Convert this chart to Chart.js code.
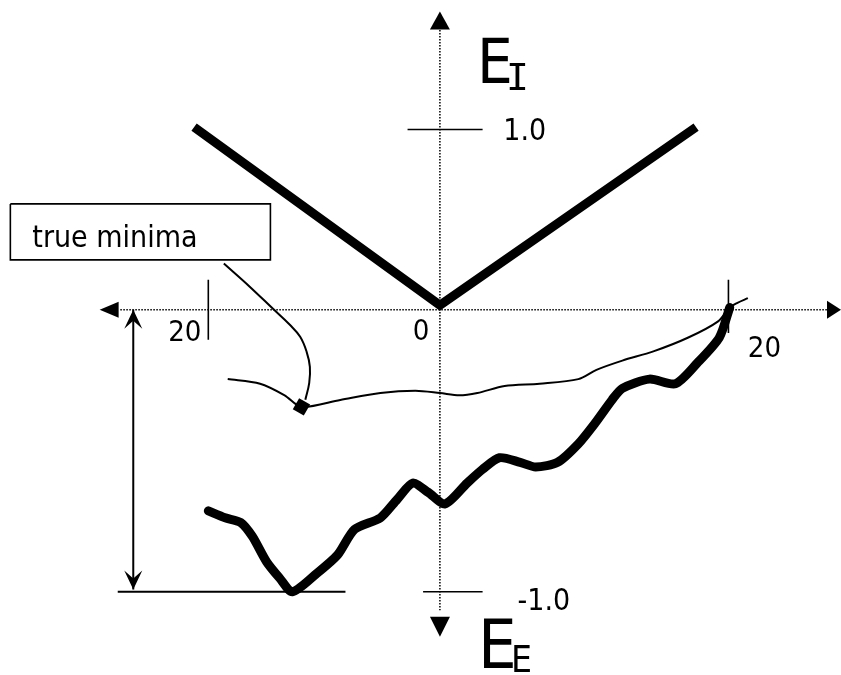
<!DOCTYPE html>
<html>
<head>
<meta charset="utf-8">
<script src="https://cdn.jsdelivr.net/npm/chart.js@4.4.0/dist/chart.umd.min.js"></script>
<style>
html, body { margin: 0; padding: 0; background: #fff; }
</style>
</head>
<body>
<canvas id="chart" width="841" height="675"></canvas>
<script>
// V shaped curve above the axis (E_I)
let vX = [-19, 0, 19.8];
let vY = [0.79, 0.02, 0.79];

// thin trajectory, ends at the true minima marker
let thinX = [-16.4, -13.9, -12.0, -10.7, -7.7, -4.6, -1.9, 0, 1.5, 2.9, 5.0, 7.7, 10.7, 12.1, 14.1, 16.5, 19.2, 21.5, 22.4, 23.0, 23.8];
let thinY = [-0.30, -0.32, -0.37, -0.42, -0.39, -0.36, -0.35, -0.36, -0.37, -0.36, -0.33, -0.32, -0.30, -0.26, -0.22, -0.18, -0.12, -0.05, 0.01, 0.03, 0.05];

// thick wavy curve (E_E)
let thickX = [-17.9, -16.6, -15.4, -14.5, -13.4, -12.4, -11.4, -9.5, -7.9, -6.6, -4.6, -3.3, -2.1, -0.9, 0.4, 2.1, 3.3, 4.6, 6.2, 7.4, 9.1, 10.7, 12.0, 13.3, 14.1, 16.2, 18.2, 19.9, 21.6, 22.4];
let thickY = [-0.87, -0.90, -0.92, -0.98, -1.09, -1.16, -1.22, -1.14, -1.06, -0.95, -0.90, -0.82, -0.75, -0.79, -0.84, -0.75, -0.69, -0.64, -0.66, -0.68, -0.66, -0.58, -0.49, -0.39, -0.34, -0.30, -0.32, -0.23, -0.12, 0.01];

// true minima marker
let minX = [-10.7];
let minY = [-0.42];

// leader line from the label box to the marker
let leadX = [-16.7, -14.7, -12.9, -11.6, -10.8, -10.3, -10.05, -10.1, -10.4];
let leadY = [0.20, 0.10, 0.004, -0.065, -0.117, -0.182, -0.247, -0.316, -0.389];

// axis ticks
let yTickVals = [1.0, -1.0];
let yTickAt = [0.78, -1.22];
let xTickVals = [-20, 20];
let xTickAt = [-17.9, 22.3];

let toPts = (xs, ys) => xs.map((x, i) => ({ x: x, y: ys[i] }));

let black = '#000';

function lineSet(pts, w, extra) {
  return Object.assign({
    data: pts, showLine: true, pointRadius: 0, borderColor: black,
    borderWidth: w, tension: 0, clip: false
  }, extra || {});
}

let datasets = [
  // dotted axes
  lineSet(toPts([-24.7, 30.1], [0, 0]), 1.5, { borderDash: [1.5, 1.5] }),
  lineSet(toPts([0, 0], [1.21, -1.30]), 1.5, { borderDash: [1.5, 1.5] }),
  // y ticks
  lineSet(toPts([-2.5, 3.3], [yTickAt[0], yTickAt[0]]), 1.6),
  lineSet(toPts([-1.3, 3.3], [yTickAt[1], yTickAt[1]]), 1.6),
  // x ticks
  lineSet(toPts([xTickAt[0], xTickAt[0]], [0.13, -0.13]), 1.6),
  lineSet(toPts([xTickAt[1], xTickAt[1]], [0.13, -0.10]), 1.6),
  // depth bar and baseline
  lineSet(toPts([-23.7, -23.7], [0.0, -1.21]), 2),
  lineSet(toPts([-24.9, -7.3], [-1.22, -1.22]), 2),
  // label box
  lineSet(toPts([-33.2, -13.1, -13.1, -33.2, -33.2], [0.458, 0.458, 0.216, 0.216, 0.458]), 1.6),
  // leader
  lineSet(toPts(leadX, leadY), 2, { tension: 0.4 }),
  // curves
  lineSet(toPts(vX, vY), 9, { borderJoinStyle: 'miter' }),
  lineSet(toPts(thinX, thinY), 2, { tension: 0.3 }),
  lineSet(toPts(thickX, thickY), 9, { tension: 0.25, borderJoinStyle: 'round', borderCapStyle: 'round' }),
  {
    data: toPts(minX, minY), showLine: false, pointStyle: 'rect', pointRadius: 9,
    pointRotation: 30, backgroundColor: black, borderColor: black, borderWidth: 0, clip: false
  }
];

let fam = "'DejaVu Sans Condensed', 'DejaVu Sans', sans-serif";
let mono = "'DejaVu Sans Mono', monospace";

// text drawn at data positions: [text, x, y, size, family]
let texts = [
  ['1.0', 4.9, 0.735, 30, fam],
  ['-1.0', 6.0, -1.30, 30, fam],
  [String(Math.abs(xTickVals[0])), -21.0, -0.134, 29, fam],
  ['0', -2.1, -0.13, 29, fam],
  [String(xTickVals[1]), 23.8, -0.203, 29, fam],
  ['true minima', -31.5, 0.272, 30, fam],
  ['E', 2.86, 0.98, 63, fam],
  ['I', 5.1, 0.95, 38, mono],
  ['E', 2.94, -1.55, 68, fam],
  ['E', 5.5, -1.566, 37, fam]
];

let decor = {
  id: 'decor',
  afterDatasetsDraw(chart) {
    let ctx = chart.ctx;
    let sx = chart.scales.x, sy = chart.scales.y;
    let px = v => sx.getPixelForValue(v);
    let py = v => sy.getPixelForValue(v);
    ctx.save();
    ctx.fillStyle = black;
    ctx.strokeStyle = black;

    // filled triangles at the ends of the axes
    function tri(tx, ty, dx, dy, len, half) {
      let bx = tx - dx * len, by = ty - dy * len;
      ctx.beginPath();
      ctx.moveTo(tx, ty);
      ctx.lineTo(bx - dy * half, by + dx * half);
      ctx.lineTo(bx + dy * half, by - dx * half);
      ctx.closePath();
      ctx.fill();
    }
    tri(px(-26.3), py(0), -1, 0, 19, 8);
    tri(px(31), py(0), 1, 0, 14, 9);
    tri(px(0), py(1.29), 0, -1, 18, 10);
    tri(px(0), py(-1.415), 0, 1, 20, 10);

    // stealth heads on the depth bar
    function stealth(tx, ty, dir) {
      ctx.beginPath();
      ctx.moveTo(tx, ty);
      ctx.lineTo(tx - 9, ty - dir * 19);
      ctx.lineTo(tx, ty - dir * 11);
      ctx.lineTo(tx + 9, ty - dir * 19);
      ctx.closePath();
      ctx.fill();
    }
    stealth(px(-23.7), py(0.0), -1);
    stealth(px(-23.7), py(-1.21), 1);

    ctx.textBaseline = 'alphabetic';
    ctx.textAlign = 'left';
    texts.forEach(t => {
      ctx.font = t[3] + 'px ' + t[4];
      ctx.fillText(t[0], px(t[1]), py(t[2]));
    });
    ctx.restore();
  }
};

new Chart(document.getElementById('chart'), {
  type: 'scatter',
  data: { datasets: datasets },
  options: {
    responsive: false,
    animation: false,
    layout: { padding: 0, autoPadding: false },
    scales: {
      x: { type: 'linear', min: -34, max: 31, display: false },
      y: { type: 'linear', min: -1.58, max: 1.34, display: false }
    },
    plugins: { legend: { display: false }, tooltip: { enabled: false } }
  },
  plugins: [decor]
});
</script>
</body>
</html>
